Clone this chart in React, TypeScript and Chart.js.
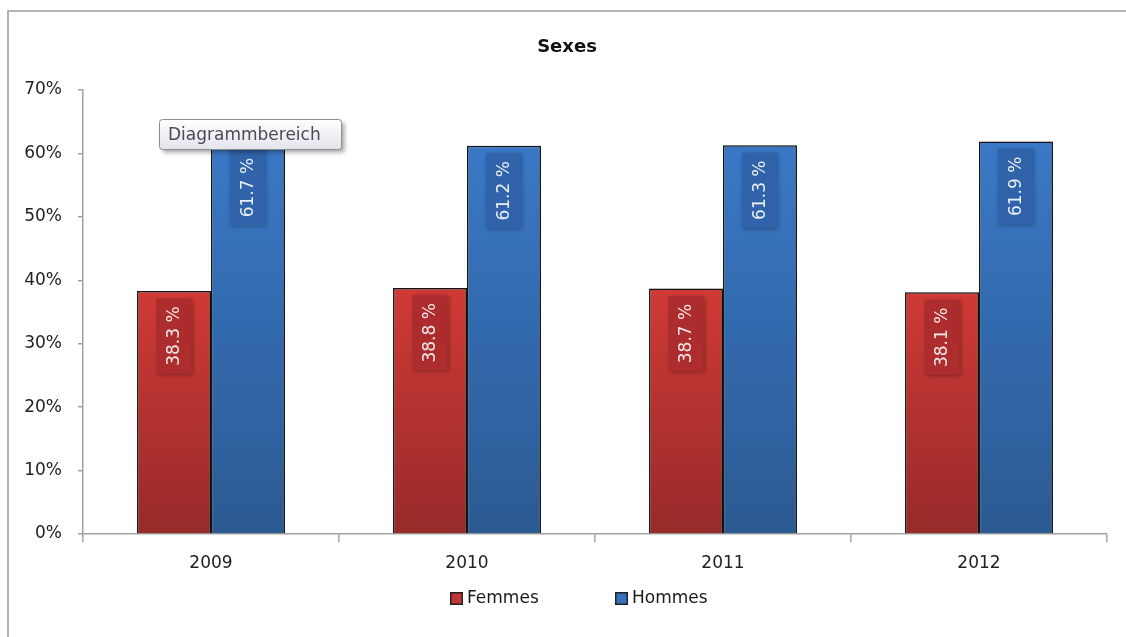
import React, { useEffect, useRef } from 'react';
import { Chart, registerables } from 'chart.js';

Chart.register(...registerables);

const categories = ['2009', '2010', '2011', '2012'];
const femmes = [38.3, 38.8, 38.7, 38.1];
const hommes = [61.7, 61.2, 61.3, 61.9];
const seriesNames = ['Femmes', 'Hommes'];
const yMax = 70;
const yStep = 10;
const chartTitle = 'Sexes';
const hoverText = 'Diagrammbereich';

const FONT = '"DejaVu Sans", sans-serif';
const AXIS = '#a2a2a2';

function roundRect(ctx: CanvasRenderingContext2D, x: number, y: number, w: number, h: number, r: number) {
  ctx.beginPath();
  ctx.moveTo(x + r, y);
  ctx.lineTo(x + w - r, y);
  ctx.quadraticCurveTo(x + w, y, x + w, y + r);
  ctx.lineTo(x + w, y + h - r);
  ctx.quadraticCurveTo(x + w, y + h, x + w - r, y + h);
  ctx.lineTo(x + r, y + h);
  ctx.quadraticCurveTo(x, y + h, x, y + h - r);
  ctx.lineTo(x, y + r);
  ctx.quadraticCurveTo(x, y, x + r, y);
  ctx.closePath();
}

const decorPlugin = {
  id: 'decor',
  beforeDraw(chart: any) {
    const ctx = chart.ctx as CanvasRenderingContext2D;
    ctx.save();
    ctx.fillStyle = '#ffffff';
    ctx.fillRect(0, 0, chart.width, chart.height);
    ctx.strokeStyle = '#9a9a9a';
    ctx.lineWidth = 1.5;
    ctx.beginPath();
    ctx.moveTo(8, chart.height);
    ctx.lineTo(8, 11);
    ctx.lineTo(chart.width, 11);
    ctx.stroke();
    // title
    ctx.fillStyle = '#111111';
    ctx.font = `bold 18px ${FONT}`;
    ctx.textAlign = 'center';
    ctx.textBaseline = 'alphabetic';
    ctx.fillText(chartTitle, 567, 52);
    // legend
    const legendItems = [
      { name: seriesNames[0], box: 450, text: 467, color: '#c0353a' },
      { name: seriesNames[1], box: 615, text: 632, color: '#3470bd' },
    ];
    ctx.font = `17px ${FONT}`;
    ctx.textAlign = 'left';
    legendItems.forEach((it) => {
      ctx.fillStyle = it.color;
      ctx.fillRect(it.box, 592, 13, 13);
      ctx.strokeStyle = '#222222';
      ctx.lineWidth = 1.5;
      ctx.strokeRect(it.box + 0.75, 592.75, 11.5, 11.5);
      ctx.fillStyle = '#1a1a1a';
      ctx.fillText(it.name, it.text, 603);
    });
    ctx.restore();
  },
  beforeDatasetsDraw(chart: any) {
    const ctx = chart.ctx as CanvasRenderingContext2D;
    ctx.save();
    ctx.shadowColor = 'rgba(0,0,0,0.28)';
    ctx.shadowBlur = 4;
    ctx.shadowOffsetX = 2;
    ctx.shadowOffsetY = 1;
  },
  afterDatasetsDraw(chart: any) {
    const ctx = chart.ctx as CanvasRenderingContext2D;
    ctx.restore();
    const boxFill = ['#ad2d2f', '#3063a9'];
    const textFill = ['#f5e8e8', '#e9eff8'];
    chart.data.datasets.forEach((ds: any, di: number) => {
      const meta = chart.getDatasetMeta(di);
      meta.data.forEach((bar: any, i: number) => {
        const v = ds.data[i];
        const label = `${v.toFixed(1)} %`;
        const cx = bar.x;
        const cy = bar.y + 45;
        const w = 35;
        const h = 75;
        ctx.save();
        ctx.shadowColor = 'rgba(0,0,0,0.3)';
        ctx.shadowBlur = 4;
        ctx.shadowOffsetX = 1;
        ctx.shadowOffsetY = 1;
        ctx.fillStyle = boxFill[di];
        ctx.fillRect(cx - w / 2, cy - h / 2, w, h);
        ctx.restore();
        ctx.save();
        ctx.translate(cx, cy);
        ctx.rotate(-Math.PI / 2);
        ctx.font = `17px ${FONT}`;
        ctx.textAlign = 'center';
        ctx.textBaseline = 'middle';
        ctx.fillStyle = textFill[di];
        ctx.fillText(label, 0, 1);
        ctx.restore();
      });
    });
  },
  afterDraw(chart: any) {
    const ctx = chart.ctx as CanvasRenderingContext2D;
    ctx.save();
    ctx.shadowColor = 'rgba(0,0,0,0.35)';
    ctx.shadowBlur = 4;
    ctx.shadowOffsetX = 3;
    ctx.shadowOffsetY = 3;
    const g = ctx.createLinearGradient(0, 119, 0, 150);
    g.addColorStop(0, '#ffffff');
    g.addColorStop(1, '#e3e4ec');
    roundRect(ctx, 159.5, 119.5, 182, 30, 3);
    ctx.fillStyle = g;
    ctx.fill();
    ctx.restore();
    ctx.save();
    roundRect(ctx, 159.5, 119.5, 182, 30, 3);
    ctx.strokeStyle = '#8c8c94';
    ctx.lineWidth = 1;
    ctx.stroke();
    ctx.font = `17px ${FONT}`;
    ctx.fillStyle = '#4a4a58';
    ctx.textAlign = 'left';
    ctx.textBaseline = 'alphabetic';
    ctx.fillText(hoverText, 168, 140);
    ctx.restore();
  },
};

function makeGradient(chart: any, stops: [number, string][], fallback: string) {
  const area = chart.chartArea;
  if (!area) return fallback;
  const g = chart.ctx.createLinearGradient(0, area.top, 0, area.bottom);
  stops.forEach(([p, c]) => g.addColorStop(p, c));
  return g;
}

export default function App() {
  const ref = useRef<HTMLCanvasElement>(null);
  useEffect(() => {
    if (!ref.current) return;
    const chart = new Chart(ref.current, {
      type: 'bar',
      data: {
        labels: categories,
        datasets: [
          {
            label: seriesNames[0],
            data: femmes,
            backgroundColor: (c: any) =>
              makeGradient(c.chart, [[0, '#e04641'], [0.45, '#d03a36'], [1, '#972a2a']], '#c0353a'),
            borderColor: '#151515',
            borderWidth: 1.5,
            categoryPercentage: 0.578,
            barPercentage: 1,
          },
          {
            label: seriesNames[1],
            data: hommes,
            backgroundColor: (c: any) =>
              makeGradient(c.chart, [[0, '#3d7ccc'], [0.12, '#3a78c6'], [1, '#2b5a93']], '#3470bd'),
            borderColor: '#151515',
            borderWidth: 1.5,
            categoryPercentage: 0.578,
            barPercentage: 1,
          },
        ],
      },
      options: {
        responsive: false,
        animation: false,
        devicePixelRatio: 1,
        layout: { padding: { top: 90, right: 19, bottom: 63, left: 0 } },
        plugins: {
          legend: { display: false },
          title: { display: false },
          tooltip: { enabled: false },
        },
        events: [],
        scales: {
          x: {
            afterFit: (s: any) => {
              s.height = 40;
            },
            grid: {
              drawOnChartArea: false,
              drawTicks: true,
              tickLength: 8,
              color: AXIS,
              lineWidth: 1.5,
              offset: true,
            },
            border: { color: AXIS, width: 1.5 },
            ticks: { color: '#222222', font: { family: FONT, size: 17 }, padding: 11 },
          },
          y: {
            min: 0,
            max: yMax,
            afterFit: (s: any) => {
              s.width = 83;
            },
            grid: {
              drawOnChartArea: false,
              drawTicks: true,
              tickLength: 5,
              color: AXIS,
              lineWidth: 1.5,
            },
            border: { color: AXIS, width: 1.5 },
            ticks: {
              stepSize: yStep,
              color: '#222222',
              font: { family: FONT, size: 17 },
              padding: 16,
              callback: (v: any) => `${v}%`,
            },
          },
        },
      },
      plugins: [decorPlugin],
    });
    return () => chart.destroy();
  }, []);
  return (
    <div style={{ position: 'fixed', left: 0, top: 0, width: 1126, height: 637, background: '#fff' }}>
      <canvas ref={ref} width={1126} height={637} style={{ display: 'block', width: 1126, height: 637 }} />
    </div>
  );
}
